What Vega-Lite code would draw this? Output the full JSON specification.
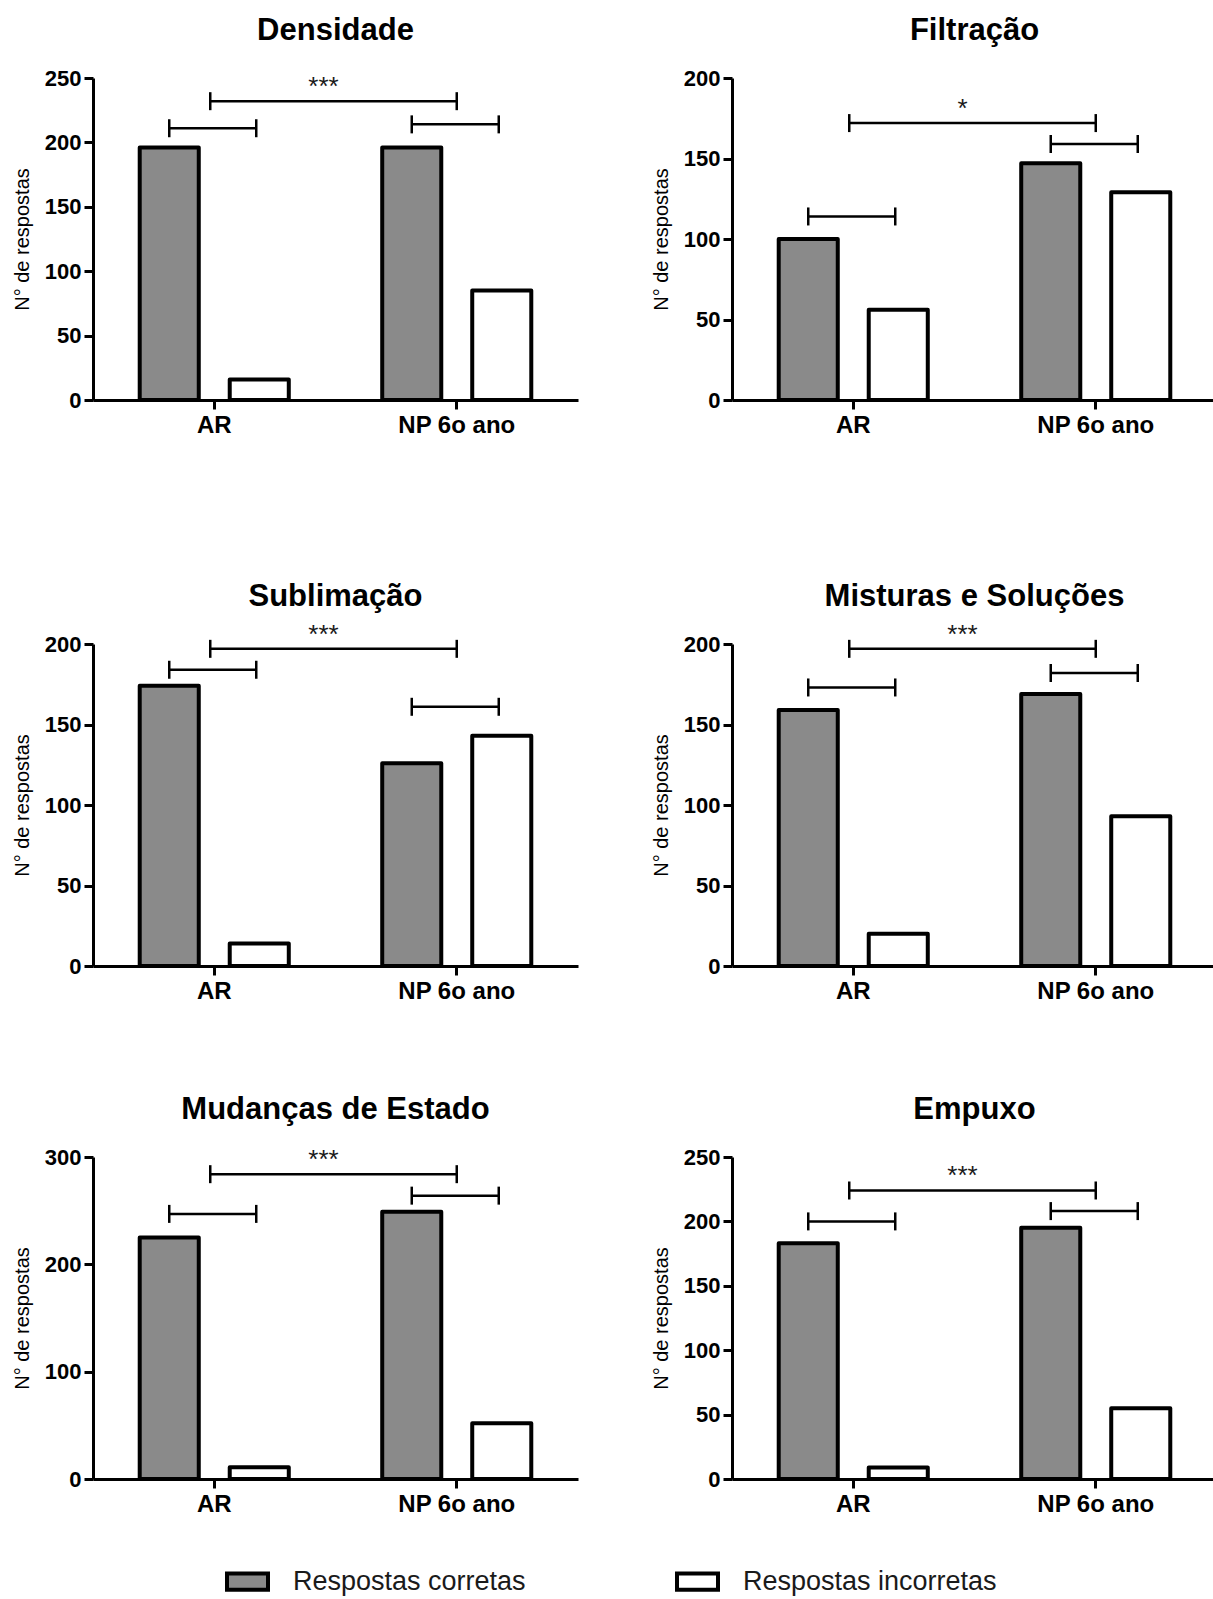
{
  "$schema": "https://vega.github.io/schema/vega-lite/v6.json",
  "padding": {"left": 12, "top": 15, "right": 0, "bottom": 0},
  "background": "white",
  "datasets": {
    "dados": [
      {"painel": "Densidade", "tipo": "barra", "grupo": "AR", "resposta": "Respostas corretas", "n": 196},
      {"painel": "Densidade", "tipo": "barra", "grupo": "AR", "resposta": "Respostas incorretas", "n": 16},
      {"painel": "Densidade", "tipo": "barra", "grupo": "NP 6o ano", "resposta": "Respostas corretas", "n": 196},
      {"painel": "Densidade", "tipo": "barra", "grupo": "NP 6o ano", "resposta": "Respostas incorretas", "n": 85},
      {"painel": "Densidade", "tipo": "curto", "grupo": "AR", "y": 211},
      {"painel": "Densidade", "tipo": "curto", "grupo": "NP 6o ano", "y": 214},
      {"painel": "Densidade", "tipo": "longo", "de": "AR", "ate": "NP 6o ano", "y": 232, "sig": "***"},

      {"painel": "Filtração", "tipo": "barra", "grupo": "AR", "resposta": "Respostas corretas", "n": 100},
      {"painel": "Filtração", "tipo": "barra", "grupo": "AR", "resposta": "Respostas incorretas", "n": 56},
      {"painel": "Filtração", "tipo": "barra", "grupo": "NP 6o ano", "resposta": "Respostas corretas", "n": 147},
      {"painel": "Filtração", "tipo": "barra", "grupo": "NP 6o ano", "resposta": "Respostas incorretas", "n": 129},
      {"painel": "Filtração", "tipo": "curto", "grupo": "AR", "y": 114},
      {"painel": "Filtração", "tipo": "curto", "grupo": "NP 6o ano", "y": 159},
      {"painel": "Filtração", "tipo": "longo", "de": "AR", "ate": "NP 6o ano", "y": 172, "sig": "*"},

      {"painel": "Sublimação", "tipo": "barra", "grupo": "AR", "resposta": "Respostas corretas", "n": 174},
      {"painel": "Sublimação", "tipo": "barra", "grupo": "AR", "resposta": "Respostas incorretas", "n": 14},
      {"painel": "Sublimação", "tipo": "barra", "grupo": "NP 6o ano", "resposta": "Respostas corretas", "n": 126},
      {"painel": "Sublimação", "tipo": "barra", "grupo": "NP 6o ano", "resposta": "Respostas incorretas", "n": 143},
      {"painel": "Sublimação", "tipo": "curto", "grupo": "AR", "y": 184},
      {"painel": "Sublimação", "tipo": "curto", "grupo": "NP 6o ano", "y": 161},
      {"painel": "Sublimação", "tipo": "longo", "de": "AR", "ate": "NP 6o ano", "y": 197, "sig": "***"},

      {"painel": "Misturas e Soluções", "tipo": "barra", "grupo": "AR", "resposta": "Respostas corretas", "n": 159},
      {"painel": "Misturas e Soluções", "tipo": "barra", "grupo": "AR", "resposta": "Respostas incorretas", "n": 20},
      {"painel": "Misturas e Soluções", "tipo": "barra", "grupo": "NP 6o ano", "resposta": "Respostas corretas", "n": 169},
      {"painel": "Misturas e Soluções", "tipo": "barra", "grupo": "NP 6o ano", "resposta": "Respostas incorretas", "n": 93},
      {"painel": "Misturas e Soluções", "tipo": "curto", "grupo": "AR", "y": 173},
      {"painel": "Misturas e Soluções", "tipo": "curto", "grupo": "NP 6o ano", "y": 182},
      {"painel": "Misturas e Soluções", "tipo": "longo", "de": "AR", "ate": "NP 6o ano", "y": 197, "sig": "***"},

      {"painel": "Mudanças de Estado", "tipo": "barra", "grupo": "AR", "resposta": "Respostas corretas", "n": 225},
      {"painel": "Mudanças de Estado", "tipo": "barra", "grupo": "AR", "resposta": "Respostas incorretas", "n": 11},
      {"painel": "Mudanças de Estado", "tipo": "barra", "grupo": "NP 6o ano", "resposta": "Respostas corretas", "n": 249},
      {"painel": "Mudanças de Estado", "tipo": "barra", "grupo": "NP 6o ano", "resposta": "Respostas incorretas", "n": 52},
      {"painel": "Mudanças de Estado", "tipo": "curto", "grupo": "AR", "y": 247},
      {"painel": "Mudanças de Estado", "tipo": "curto", "grupo": "NP 6o ano", "y": 264},
      {"painel": "Mudanças de Estado", "tipo": "longo", "de": "AR", "ate": "NP 6o ano", "y": 284, "sig": "***"},

      {"painel": "Empuxo", "tipo": "barra", "grupo": "AR", "resposta": "Respostas corretas", "n": 183},
      {"painel": "Empuxo", "tipo": "barra", "grupo": "AR", "resposta": "Respostas incorretas", "n": 9},
      {"painel": "Empuxo", "tipo": "barra", "grupo": "NP 6o ano", "resposta": "Respostas corretas", "n": 195},
      {"painel": "Empuxo", "tipo": "barra", "grupo": "NP 6o ano", "resposta": "Respostas incorretas", "n": 55},
      {"painel": "Empuxo", "tipo": "curto", "grupo": "AR", "y": 200},
      {"painel": "Empuxo", "tipo": "curto", "grupo": "NP 6o ano", "y": 208},
      {"painel": "Empuxo", "tipo": "longo", "de": "AR", "ate": "NP 6o ano", "y": 224, "sig": "***"}
    ]
  },
  "config": {
    "view": {"stroke": null},
    "font": "Liberation Sans",
    "axis": {
      "domainColor": "black", "domainWidth": 3, "tickColor": "black", "tickWidth": 3, "tickSize": 9,
      "labelFont": "Liberation Sans", "labelFontSize": 22, "labelFontWeight": "bold", "labelColor": "black",
      "grid": false, "titleFont": "Liberation Sans", "titleFontWeight": "normal", "titleFontSize": 20, "titleColor": "black",
      "labelPadding": 3
    },
    "axisX": {"labelAngle": 0, "labelPadding": 4, "labelFontSize": 24},
    "axisY": {"titlePadding": 12},
    "header": {"title": null, "labelFont": "Liberation Sans", "labelFontSize": 31, "labelFontWeight": "bold", "labelColor": "black", "labelBaseline": "alphabetic", "labelPadding": -4}
  },
  "resolve": {"scale": {"x": "independent", "y": "independent", "xOffset": "independent"}},
  "spacing": 143,
  "vconcat": [
    {
      "data": {"name": "dados"},
      "transform": [{"filter": {"field": "painel", "oneOf": ["Densidade", "Filtração"]}}],
      "facet": {"field": "painel", "type": "nominal", "sort": ["Densidade", "Filtração"], "header": {"title": null}},
      "columns": 2,
      "spacing": {"column": 73, "row": 60},
      "resolve": {"scale": {"y": "independent"}, "axis": {"x": "independent", "y": "independent"}},
      "spec": {
        "width": 485, "height": 322,
        "layer": [
          {
            "transform": [{"filter": "datum.tipo == 'barra'"}],
            "mark": {"type": "bar", "stroke": "black", "strokeWidth": 4, "strokeJoin": "round"},
            "encoding": {
              "x": {"field": "grupo", "type": "nominal", "title": null, "scale": {"domain": ["AR", "NP 6o ano"], "paddingInner": 0, "paddingOuter": 0}},
              "xOffset": {"field": "resposta", "type": "nominal", "scale": {"domain": ["Respostas corretas", "Respostas incorretas"], "paddingInner": 0.344, "paddingOuter": 0.519}},
              "y": {"field": "n", "type": "quantitative", "title": "N° de respostas", "scale": {"nice": 4}, "axis": {"tickCount": 4}},
              "fill": {"field": "resposta", "type": "nominal", "scale": {"domain": ["Respostas corretas", "Respostas incorretas"], "range": ["#8a8a8a", "#ffffff"]},
                "legend": {"title": null, "orient": "none", "legendX": 132, "legendY": 1481, "direction": "horizontal", "symbolType": "M-1,-0.4H1V0.4H-1Z", "symbolSize": 1681, "symbolStrokeColor": "black", "symbolStrokeWidth": 4, "labelFont": "Liberation Sans", "labelFontSize": 27, "labelColor": "#1a1a1a", "labelOffset": 23, "columnPadding": 143, "labelLimit": 400, "padding": 0}}
            }
          },
          {
            "transform": [{"filter": "datum.tipo == 'curto'"}],
            "mark": {"type": "rule", "color": "black", "strokeWidth": 2.5, "xOffset": -45, "x2Offset": 42},
            "encoding": {
              "x": {"field": "grupo", "type": "nominal", "title": null, "bandPosition": 0.5},
              "x2": {"field": "grupo", "bandPosition": 0.5},
              "y": {"field": "y", "type": "quantitative", "title": "N° de respostas"}
            }
          },
          {
            "transform": [{"filter": "datum.tipo == 'curto'"}],
            "mark": {"type": "rule", "color": "black", "strokeWidth": 2.5, "xOffset": -45, "yOffset": -9, "y2Offset": 9},
            "encoding": {
              "x": {"field": "grupo", "type": "nominal", "title": null},
              "y": {"field": "y", "type": "quantitative", "title": "N° de respostas"},
              "y2": {"field": "y"}
            }
          },
          {
            "transform": [{"filter": "datum.tipo == 'curto'"}],
            "mark": {"type": "rule", "color": "black", "strokeWidth": 2.5, "xOffset": 42, "yOffset": -9, "y2Offset": 9},
            "encoding": {
              "x": {"field": "grupo", "type": "nominal", "title": null},
              "y": {"field": "y", "type": "quantitative", "title": "N° de respostas"},
              "y2": {"field": "y"}
            }
          },
          {
            "transform": [{"filter": "datum.tipo == 'longo'"}],
            "mark": {"type": "rule", "color": "black", "strokeWidth": 2.5, "xOffset": -4},
            "encoding": {
              "x": {"field": "de", "type": "nominal", "title": null, "bandPosition": 0.5},
              "x2": {"field": "ate", "bandPosition": 0.5},
              "y": {"field": "y", "type": "quantitative", "title": "N° de respostas"}
            }
          },
          {
            "transform": [{"filter": "datum.tipo == 'longo'"}],
            "mark": {"type": "rule", "color": "black", "strokeWidth": 2.5, "xOffset": -4, "yOffset": -9, "y2Offset": 9},
            "encoding": {
              "x": {"field": "de", "type": "nominal", "title": null},
              "y": {"field": "y", "type": "quantitative", "title": "N° de respostas"},
              "y2": {"field": "y"}
            }
          },
          {
            "transform": [{"filter": "datum.tipo == 'longo'"}],
            "mark": {"type": "rule", "color": "black", "strokeWidth": 2.5, "yOffset": -9, "y2Offset": 9},
            "encoding": {
              "x": {"field": "ate", "type": "nominal", "title": null},
              "y": {"field": "y", "type": "quantitative", "title": "N° de respostas"},
              "y2": {"field": "y"}
            }
          },
          {
            "transform": [{"filter": "datum.tipo == 'longo'"}],
            "mark": {"type": "text", "color": "#1a1a1a", "font": "Liberation Sans", "fontSize": 26, "baseline": "alphabetic", "align": "center", "dy": -6, "dx": -12},
            "encoding": {
              "x": {"field": "de", "type": "nominal", "title": null, "bandPosition": 1},
              "y": {"field": "y", "type": "quantitative", "title": "N° de respostas"},
              "text": {"field": "sig"}
            }
          }
        ]
      }
    },
    {
      "resolve": {"scale": {"x": "independent", "y": "independent", "xOffset": "independent"}},
      "spacing": 91,
      "vconcat": [
        {
          "data": {"name": "dados"},
          "transform": [{"filter": {"field": "painel", "oneOf": ["Sublimação", "Misturas e Soluções"]}}],
          "facet": {"field": "painel", "type": "nominal", "sort": ["Sublimação", "Misturas e Soluções"], "header": {"title": null, "labelPadding": -15}},
          "columns": 2,
          "spacing": {"column": 73, "row": 60},
          "resolve": {"scale": {"y": "independent"}, "axis": {"x": "independent", "y": "independent"}},
          "spec": {
            "width": 485, "height": 322,
            "layer": [
              {
                "transform": [{"filter": "datum.tipo == 'barra'"}],
                "mark": {"type": "bar", "stroke": "black", "strokeWidth": 4, "strokeJoin": "round"},
                "encoding": {
                  "x": {"field": "grupo", "type": "nominal", "title": null, "scale": {"domain": ["AR", "NP 6o ano"], "paddingInner": 0, "paddingOuter": 0}},
                  "xOffset": {"field": "resposta", "type": "nominal", "scale": {"domain": ["Respostas corretas", "Respostas incorretas"], "paddingInner": 0.344, "paddingOuter": 0.519}},
                  "y": {"field": "n", "type": "quantitative", "title": "N° de respostas", "scale": {"nice": 4}, "axis": {"tickCount": 4}},
                  "fill": {"field": "resposta", "type": "nominal", "scale": {"domain": ["Respostas corretas", "Respostas incorretas"], "range": ["#8a8a8a", "#ffffff"]}}
                }
              },
              {
                "transform": [{"filter": "datum.tipo == 'curto'"}],
                "mark": {"type": "rule", "color": "black", "strokeWidth": 2.5, "xOffset": -45, "x2Offset": 42},
                "encoding": {
                  "x": {"field": "grupo", "type": "nominal", "title": null, "bandPosition": 0.5},
                  "x2": {"field": "grupo", "bandPosition": 0.5},
                  "y": {"field": "y", "type": "quantitative", "title": "N° de respostas"}
                }
              },
              {
                "transform": [{"filter": "datum.tipo == 'curto'"}],
                "mark": {"type": "rule", "color": "black", "strokeWidth": 2.5, "xOffset": -45, "yOffset": -9, "y2Offset": 9},
                "encoding": {
                  "x": {"field": "grupo", "type": "nominal", "title": null},
                  "y": {"field": "y", "type": "quantitative", "title": "N° de respostas"},
                  "y2": {"field": "y"}
                }
              },
              {
                "transform": [{"filter": "datum.tipo == 'curto'"}],
                "mark": {"type": "rule", "color": "black", "strokeWidth": 2.5, "xOffset": 42, "yOffset": -9, "y2Offset": 9},
                "encoding": {
                  "x": {"field": "grupo", "type": "nominal", "title": null},
                  "y": {"field": "y", "type": "quantitative", "title": "N° de respostas"},
                  "y2": {"field": "y"}
                }
              },
              {
                "transform": [{"filter": "datum.tipo == 'longo'"}],
                "mark": {"type": "rule", "color": "black", "strokeWidth": 2.5, "xOffset": -4},
                "encoding": {
                  "x": {"field": "de", "type": "nominal", "title": null, "bandPosition": 0.5},
                  "x2": {"field": "ate", "bandPosition": 0.5},
                  "y": {"field": "y", "type": "quantitative", "title": "N° de respostas"}
                }
              },
              {
                "transform": [{"filter": "datum.tipo == 'longo'"}],
                "mark": {"type": "rule", "color": "black", "strokeWidth": 2.5, "xOffset": -4, "yOffset": -9, "y2Offset": 9},
                "encoding": {
                  "x": {"field": "de", "type": "nominal", "title": null},
                  "y": {"field": "y", "type": "quantitative", "title": "N° de respostas"},
                  "y2": {"field": "y"}
                }
              },
              {
                "transform": [{"filter": "datum.tipo == 'longo'"}],
                "mark": {"type": "rule", "color": "black", "strokeWidth": 2.5, "yOffset": -9, "y2Offset": 9},
                "encoding": {
                  "x": {"field": "ate", "type": "nominal", "title": null},
                  "y": {"field": "y", "type": "quantitative", "title": "N° de respostas"},
                  "y2": {"field": "y"}
                }
              },
              {
                "transform": [{"filter": "datum.tipo == 'longo'"}],
                "mark": {"type": "text", "color": "#1a1a1a", "font": "Liberation Sans", "fontSize": 26, "baseline": "alphabetic", "align": "center", "dy": -6, "dx": -12},
                "encoding": {
                  "x": {"field": "de", "type": "nominal", "title": null, "bandPosition": 1},
                  "y": {"field": "y", "type": "quantitative", "title": "N° de respostas"},
                  "text": {"field": "sig"}
                }
              }
            ]
          }
        },
        {
          "data": {"name": "dados"},
          "transform": [{"filter": {"field": "painel", "oneOf": ["Mudanças de Estado", "Empuxo"]}}],
          "facet": {"field": "painel", "type": "nominal", "sort": ["Mudanças de Estado", "Empuxo"], "header": {"title": null}},
          "columns": 2,
          "spacing": {"column": 73, "row": 60},
          "resolve": {"scale": {"y": "independent"}, "axis": {"x": "independent", "y": "independent"}},
          "spec": {
            "width": 485, "height": 322,
            "layer": [
              {
                "transform": [{"filter": "datum.tipo == 'barra'"}],
                "mark": {"type": "bar", "stroke": "black", "strokeWidth": 4, "strokeJoin": "round"},
                "encoding": {
                  "x": {"field": "grupo", "type": "nominal", "title": null, "scale": {"domain": ["AR", "NP 6o ano"], "paddingInner": 0, "paddingOuter": 0}},
                  "xOffset": {"field": "resposta", "type": "nominal", "scale": {"domain": ["Respostas corretas", "Respostas incorretas"], "paddingInner": 0.344, "paddingOuter": 0.519}},
                  "y": {"field": "n", "type": "quantitative", "title": "N° de respostas", "scale": {"nice": 4}, "axis": {"tickCount": 4}},
                  "fill": {"field": "resposta", "type": "nominal", "scale": {"domain": ["Respostas corretas", "Respostas incorretas"], "range": ["#8a8a8a", "#ffffff"]}}
                }
              },
              {
                "transform": [{"filter": "datum.tipo == 'curto'"}],
                "mark": {"type": "rule", "color": "black", "strokeWidth": 2.5, "xOffset": -45, "x2Offset": 42},
                "encoding": {
                  "x": {"field": "grupo", "type": "nominal", "title": null, "bandPosition": 0.5},
                  "x2": {"field": "grupo", "bandPosition": 0.5},
                  "y": {"field": "y", "type": "quantitative", "title": "N° de respostas"}
                }
              },
              {
                "transform": [{"filter": "datum.tipo == 'curto'"}],
                "mark": {"type": "rule", "color": "black", "strokeWidth": 2.5, "xOffset": -45, "yOffset": -9, "y2Offset": 9},
                "encoding": {
                  "x": {"field": "grupo", "type": "nominal", "title": null},
                  "y": {"field": "y", "type": "quantitative", "title": "N° de respostas"},
                  "y2": {"field": "y"}
                }
              },
              {
                "transform": [{"filter": "datum.tipo == 'curto'"}],
                "mark": {"type": "rule", "color": "black", "strokeWidth": 2.5, "xOffset": 42, "yOffset": -9, "y2Offset": 9},
                "encoding": {
                  "x": {"field": "grupo", "type": "nominal", "title": null},
                  "y": {"field": "y", "type": "quantitative", "title": "N° de respostas"},
                  "y2": {"field": "y"}
                }
              },
              {
                "transform": [{"filter": "datum.tipo == 'longo'"}],
                "mark": {"type": "rule", "color": "black", "strokeWidth": 2.5, "xOffset": -4},
                "encoding": {
                  "x": {"field": "de", "type": "nominal", "title": null, "bandPosition": 0.5},
                  "x2": {"field": "ate", "bandPosition": 0.5},
                  "y": {"field": "y", "type": "quantitative", "title": "N° de respostas"}
                }
              },
              {
                "transform": [{"filter": "datum.tipo == 'longo'"}],
                "mark": {"type": "rule", "color": "black", "strokeWidth": 2.5, "xOffset": -4, "yOffset": -9, "y2Offset": 9},
                "encoding": {
                  "x": {"field": "de", "type": "nominal", "title": null},
                  "y": {"field": "y", "type": "quantitative", "title": "N° de respostas"},
                  "y2": {"field": "y"}
                }
              },
              {
                "transform": [{"filter": "datum.tipo == 'longo'"}],
                "mark": {"type": "rule", "color": "black", "strokeWidth": 2.5, "yOffset": -9, "y2Offset": 9},
                "encoding": {
                  "x": {"field": "ate", "type": "nominal", "title": null},
                  "y": {"field": "y", "type": "quantitative", "title": "N° de respostas"},
                  "y2": {"field": "y"}
                }
              },
              {
                "transform": [{"filter": "datum.tipo == 'longo'"}],
                "mark": {"type": "text", "color": "#1a1a1a", "font": "Liberation Sans", "fontSize": 26, "baseline": "alphabetic", "align": "center", "dy": -6, "dx": -12},
                "encoding": {
                  "x": {"field": "de", "type": "nominal", "title": null, "bandPosition": 1},
                  "y": {"field": "y", "type": "quantitative", "title": "N° de respostas"},
                  "text": {"field": "sig"}
                }
              }
            ]
          }
        }
      ]
    }
  ]
}
